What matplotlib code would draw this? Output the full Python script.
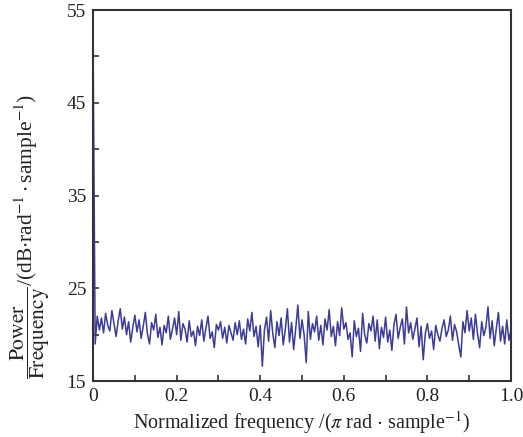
import numpy as np
import matplotlib
matplotlib.use('Agg')
import matplotlib.pyplot as plt
from matplotlib.ticker import MultipleLocator

# 功率谱密度 (dB/rad/sample), 归一化频率 0~1, 步长 0.005
psd_db = [
    51.0, 19.0, 22.0, 20.5, 21.8, 20.2, 22.3, 21.0, 20.4, 22.6, 21.2, 19.8, 21.5, 22.8, 20.6, 21.9, 20.0, 21.4, 19.2, 20.8,
    22.1, 20.3, 21.6, 19.6, 20.9, 22.4, 20.1, 19.0, 21.3, 20.5, 22.2, 19.7, 20.8, 18.9, 21.0, 20.2, 22.0, 19.5, 20.6, 21.8,
    20.0, 22.5, 19.4, 21.2, 20.6, 19.2, 21.5, 19.8, 20.4, 18.8, 20.9, 19.9, 21.6, 19.3, 20.7, 22.0, 19.6, 20.3, 18.6, 21.1,
    20.5, 21.4, 19.6, 20.8, 19.1, 21.0, 20.2, 19.4, 21.3, 20.0, 21.5, 19.5, 20.6, 19.0, 21.7, 20.4, 22.4, 19.8, 20.9, 18.7,
    21.0, 16.6, 20.5, 21.9, 19.3, 22.6, 20.1, 18.6, 21.4, 19.9, 21.8, 18.9, 20.6, 22.8, 19.2, 21.3, 18.4, 20.7, 23.2, 19.6,
    21.6, 20.0, 17.0, 22.5, 19.5, 21.2, 20.3, 22.0, 19.4, 21.0, 18.9, 21.7, 20.5, 22.7, 19.8, 20.9, 18.8, 21.4, 19.9, 22.9,
    20.6, 21.3, 19.5, 20.2, 17.6, 21.5, 19.8, 20.7, 18.2, 22.3, 20.0, 19.1, 21.2, 20.4, 22.0, 19.3, 21.6, 18.5, 20.8, 19.7,
    21.9, 19.2, 20.5, 18.3, 21.1, 22.2, 19.6, 20.8, 21.7, 19.0, 23.0, 20.2, 21.3, 19.5, 20.6, 21.8, 18.7, 20.9, 17.3, 20.1,
    21.2, 19.6, 20.4, 18.4, 21.0, 20.0, 19.3, 20.7, 21.6, 19.8, 20.5, 22.0, 19.4, 21.1, 20.3, 18.9, 17.6, 21.4, 20.2, 22.6,
    20.4, 21.8, 19.5, 22.2, 20.1, 18.6, 21.4, 19.9, 20.8, 23.0, 19.6, 21.5, 18.8, 20.7, 22.4, 19.3, 20.9, 19.0, 21.6, 19.4,
    20.5,
]
freq = np.linspace(0, 1, len(psd_db))

x_ticks = [0, 0.2, 0.4, 0.6, 0.8, 1.0]
x_tick_labels = ['0', '0.2', '0.4', '0.6', '0.8', '1.0']
y_ticks = [15, 25, 35, 45, 55]

plt.rcParams['font.family'] = ['Liberation Serif', 'DejaVu Serif']
plt.rcParams['mathtext.fontset'] = 'stix'

fig = plt.figure(figsize=(5.23, 4.37), dpi=100)
ax = fig.add_axes([0.178, 0.128, 0.799, 0.849])

ax.plot(freq, psd_db, color='#3c3c98', linewidth=1.1)

ax.set_xlim(0, 1)
ax.set_ylim(15, 55)
ax.set_xticks(x_ticks)
ax.set_xticklabels(x_tick_labels)
ax.set_yticks(y_ticks)
ax.xaxis.set_minor_locator(MultipleLocator(0.1))
ax.yaxis.set_minor_locator(MultipleLocator(5))
ax.tick_params(which='both', direction='in', length=4, width=1.2, colors='#333333',
               labelsize=14, labelcolor='#222222', pad=5)
for s in ax.spines.values():
    s.set_color('#333333')
    s.set_linewidth(1.5)

ax.set_xlabel(r'Normalized frequency /($\pi$ rad $\cdot$ sample$^{-1}$)', fontsize=14.5, color='#222222', labelpad=3)
ax.set_ylabel(r'$\dfrac{\mathrm{Power}}{\mathrm{Frequency}}$/(dB$\cdot$rad$^{-1}\cdot$sample$^{-1}$)',
              fontsize=15.5, color='#222222')
ax.yaxis.set_label_coords(-0.098, 0.39)

fig.savefig('out.png', dpi=100)
